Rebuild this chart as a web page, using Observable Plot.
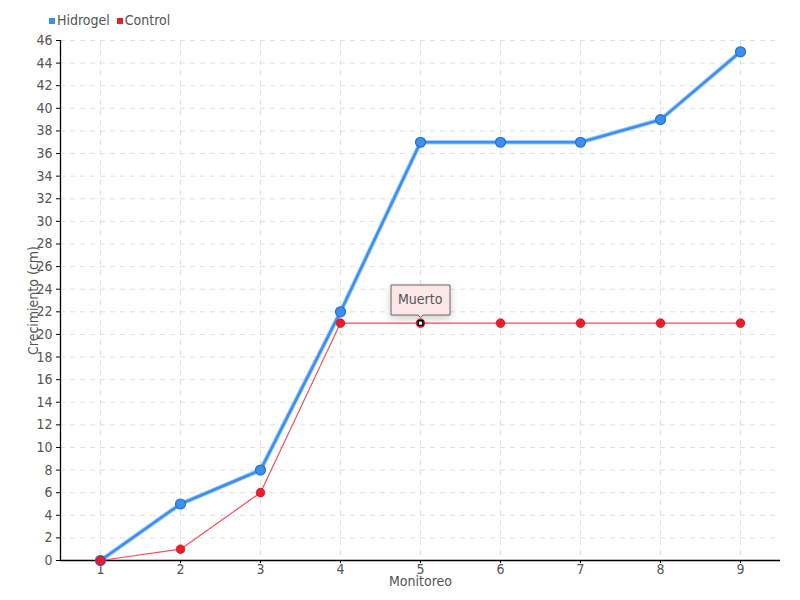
<!DOCTYPE html>
<html>
<head>
<meta charset="utf-8">
<script src="https://cdn.jsdelivr.net/npm/d3@7"></script>
<script src="https://cdn.jsdelivr.net/npm/@observablehq/plot@0.6"></script>
<style>
  html, body { margin: 0; padding: 0; background: #fff; }
  #wrap { position: relative; width: 800px; height: 600px; font-family: "DejaVu Sans Condensed", "Liberation Sans Narrow", sans-serif; }
  #legend { position: absolute; left: 49px; top: 12px; font-size: 14px; color: #555; display: flex; align-items: center; gap: 7px; z-index: 2; }
  #legend span.sw { display: inline-block; width: 6px; height: 6px; margin-right: 2px; vertical-align: middle; }
</style>
</head>
<body>
<div id="wrap"><div id="legend"></div></div>
<script>
const monitoreo = [1, 2, 3, 4, 5, 6, 7, 8, 9];
const hidrogel = [0, 5, 8, 22, 37, 37, 37, 39, 45];
const control = [0, 1, 6, 21, 21, 21, 21, 21, 21];
const yTicks = d3.range(0, 47, 2);
const seriesNames = ["Hidrogel", "Control"];
const seriesColors = ["#3b8ff0", "#ee1c2b"];
const annotations = [{x: 5, y: 21, label: "Muerto"}];

const hData = monitoreo.map((m, i) => ({x: m, y: hidrogel[i]}));
const cData = monitoreo.map((m, i) => ({x: m, y: control[i]}));

const legend = document.getElementById("legend");
seriesNames.forEach((n, i) => {
  const item = document.createElement("span");
  item.innerHTML = `<span class="sw" style="background:${seriesColors[i]}"></span>${n}`;
  legend.appendChild(item);
});

const FONT = '"DejaVu Sans Condensed", "Liberation Sans Narrow", sans-serif';
const chart = Plot.plot({
  width: 800,
  height: 600,
  marginLeft: 60,
  marginRight: 20,
  marginTop: 40,
  marginBottom: 40,
  style: {fontFamily: FONT, fontSize: "14px", color: "#555", background: "transparent"},
  x: {domain: [0.5, 9.5], ticks: monitoreo, label: null},
  y: {domain: [0, 46], ticks: yTicks, label: null},
  marks: [
    Plot.gridY(yTicks, {stroke: "#ccc", strokeOpacity: 0.6, strokeDasharray: "5,5"}),
    Plot.gridX(monitoreo, {stroke: "#ccc", strokeOpacity: 0.6, strokeDasharray: "5,5"}),
    Plot.axisY(yTicks, {tickSize: 4, tickPadding: 4, tickFormat: d => d, label: null, stroke: "#000", fill: "#555", fontSize: 14}),
    Plot.axisX(monitoreo, {tickSize: 3, tickPadding: 1, label: null, stroke: "#000", fill: "#555", fontSize: 14}),
    Plot.ruleX([0.5], {stroke: "#000", strokeWidth: 1.3}),
    Plot.ruleY([0], {stroke: "#000", strokeWidth: 1.3}),
    Plot.text(["Crecimiento (cm)"], {frameAnchor: "left", textAnchor: "middle", dx: -27, rotate: -90, fill: "#555", fontSize: 14}),
    Plot.text(["Monitoreo"], {frameAnchor: "bottom", dy: 25, fill: "#555", fontSize: 14}),
    Plot.line(hData, {x: "x", y: "y", stroke: "#a6cdf8", strokeWidth: 4.5}),
    Plot.line(hData, {x: "x", y: "y", stroke: seriesColors[0], strokeWidth: 2.6}),
    Plot.dot(hData, {x: "x", y: "y", r: 5, fill: seriesColors[0], stroke: "#2a6fc4", strokeWidth: 1.2}),
    Plot.line(cData, {x: "x", y: "y", stroke: "#f2505c", strokeWidth: 1.2}),
    Plot.dot(cData, {x: "x", y: "y", r: 4.3, fill: seriesColors[1], stroke: "#c8101e", strokeWidth: 0.8}),
    Plot.dot(annotations, {x: "x", y: "y", symbol: "square", r: 2.6, fill: "#fff", stroke: "#000", strokeWidth: 1.4}),
    Plot.tip(annotations, {x: "x", y: "y", title: "label", anchor: "bottom", dy: -6, fill: "#fde6e6", stroke: "#666", fontSize: 14, textPadding: 7, pointerSize: 5})
  ]
});
document.getElementById("wrap").appendChild(chart);
</script>
</body>
</html>
